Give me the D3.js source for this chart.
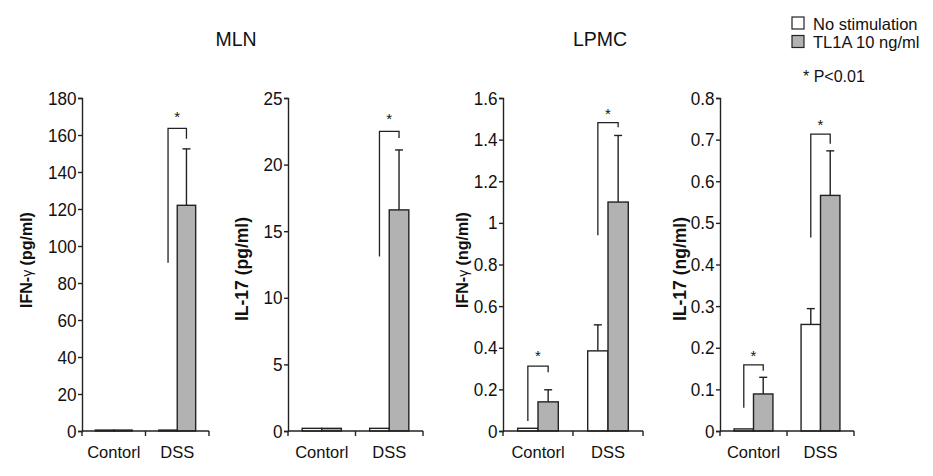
<!DOCTYPE html>
<html><head><meta charset="utf-8">
<script src="https://cdn.jsdelivr.net/npm/d3@7"></script>
<style>
body{margin:0;background:#fff;}
text{font-family:"Liberation Sans",Arial,Helvetica,sans-serif;fill:#111;}
</style></head>
<body><svg id="c" width="933" height="476"></svg>
<script>
// ---------- DATA ----------
const categories = ["Contorl", "DSS"];
const seriesNames = ["No stimulation", "TL1A 10 ng/ml"];
const groupTitles = ["MLN", "LPMC"];
const pValueNote = "* P<0.01";

// MLN IFN-γ (pg/ml)
const mlnIfnNoStim = [0.5, 0.5];
const mlnIfnNoStimErr = [0, 0];
const mlnIfnTl1a = [0.5, 122];
const mlnIfnTl1aErr = [0, 30.5];
const mlnIfnTicks = [0, 20, 40, 60, 80, 100, 120, 140, 160, 180];

// MLN IL-17 (pg/ml)
const mlnIl17NoStim = [0.2, 0.2];
const mlnIl17NoStimErr = [0, 0];
const mlnIl17Tl1a = [0.2, 16.6];
const mlnIl17Tl1aErr = [0, 4.5];
const mlnIl17Ticks = [0, 5, 10, 15, 20, 25];

// LPMC IFN-γ (ng/ml)
const lpmcIfnNoStim = [0.013, 0.385];
const lpmcIfnNoStimErr = [0, 0.125];
const lpmcIfnTl1a = [0.14, 1.10];
const lpmcIfnTl1aErr = [0.058, 0.32];
const lpmcIfnTicks = [0, 0.2, 0.4, 0.6, 0.8, 1, 1.2, 1.4, 1.6];

// LPMC IL-17 (ng/ml)
const lpmcIl17NoStim = [0.005, 0.256];
const lpmcIl17NoStimErr = [0, 0.038];
const lpmcIl17Tl1a = [0.089, 0.566];
const lpmcIl17Tl1aErr = [0.04, 0.107];
const lpmcIl17Ticks = [0, 0.1, 0.2, 0.3, 0.4, 0.5, 0.6, 0.7, 0.8];

// significance brackets: [category, left leg bottom, top, right leg bottom, star]
const mlnIfnSig = [["DSS", 91, 163.6, 158, 171]];
const mlnIl17Sig = [["DSS", 13.1, 22.5, 22.0, 23.6]];
const lpmcIfnSig = [["Contorl", 0.048, 0.312, 0.282, 0.37], ["DSS", 0.94, 1.482, 1.46, 1.535]];
const lpmcIl17Sig = [["Contorl", 0.056, 0.159, 0.145, 0.185], ["DSS", 0.465, 0.713, 0.69, 0.74]];

// ---------- LAYOUT ----------
const panels = [
  {label:["IFN-","γ"," (pg/ml)"], a:mlnIfnNoStim, ae:mlnIfnNoStimErr, b:mlnIfnTl1a, be:mlnIfnTl1aErr, ticks:mlnIfnTicks, sig:mlnIfnSig, x0:82, x1:209, labelX:28, labelY:260, labelSize:16},
  {label:["IL-17 (pg/ml)"], a:mlnIl17NoStim, ae:mlnIl17NoStimErr, b:mlnIl17Tl1a, be:mlnIl17Tl1aErr, ticks:mlnIl17Ticks, sig:mlnIl17Sig, x0:288, x1:423, labelX:243, labelY:269, labelSize:17.5},
  {label:["IFN-","γ"," (ng/ml)"], a:lpmcIfnNoStim, ae:lpmcIfnNoStimErr, b:lpmcIfnTl1a, be:lpmcIfnTl1aErr, ticks:lpmcIfnTicks, sig:lpmcIfnSig, x0:503, x1:643, labelX:464, labelY:260, labelSize:16},
  {label:["IL-17 (ng/ml)"], a:lpmcIl17NoStim, ae:lpmcIl17NoStimErr, b:lpmcIl17Tl1a, be:lpmcIl17Tl1aErr, ticks:lpmcIl17Ticks, sig:lpmcIl17Sig, x0:720, x1:854, labelX:681, labelY:269, labelSize:17.5}
];
const yTop = 98, yBot = 431;
const fills = ["#ffffff", "#b2b2b2"];
const ink = "#222";

const svg = d3.select("#c");

panels.forEach(p => {
  const g = svg.append("g");
  const y = d3.scaleLinear().domain([0, d3.max(p.ticks)]).range([yBot, yTop]);
  const x = d3.scaleBand().domain(categories).range([p.x0, p.x1]).paddingInner(0.42).paddingOuter(0.21);
  const xs = d3.scaleBand().domain([0, 1]).range([0, x.bandwidth()]);

  // y axis
  const ya = d3.axisLeft(y).tickValues(p.ticks).tickSize(4).tickPadding(2).tickFormat(d3.format("~g"));
  const yg = g.append("g").attr("transform", `translate(${p.x0},0)`).call(ya);
  yg.select(".domain").attr("stroke", ink).attr("stroke-width", 1.4);
  yg.selectAll(".tick line").attr("stroke", ink).attr("stroke-width", 1.4);
  yg.selectAll(".tick text").style("font-size", "19px").style("font-family", '"Liberation Sans",Arial,sans-serif')
    .attr("fill", "#111").attr("transform", "scale(0.9,1)");

  // bars
  const rows = categories.map((c, i) => [
    {c, s:0, v:p.a[i], e:p.ae[i]},
    {c, s:1, v:p.b[i], e:p.be[i]}
  ]).flat();

  rows.filter(r => r.e > 0).forEach(r => {
    const cx = x(r.c) + xs(r.s) + xs.bandwidth() / 2;
    g.append("line").attr("x1", cx).attr("x2", cx).attr("y1", y(r.v)).attr("y2", y(r.v + r.e))
      .attr("stroke", ink).attr("stroke-width", 1.4);
    g.append("line").attr("x1", cx - 4).attr("x2", cx + 4).attr("y1", y(r.v + r.e)).attr("y2", y(r.v + r.e))
      .attr("stroke", ink).attr("stroke-width", 1.4);
  });

  g.selectAll("rect.bar").data(rows).join("rect").attr("class", "bar")
    .attr("x", r => x(r.c) + xs(r.s))
    .attr("width", xs.bandwidth())
    .attr("y", r => y(r.v))
    .attr("height", r => yBot - y(r.v))
    .attr("fill", r => fills[r.s])
    .attr("stroke", ink).attr("stroke-width", 1.4);

  // x axis
  const step = x.step();
  const bounds = [p.x0, p.x0 + step, p.x1];
  g.append("line").attr("x1", p.x0).attr("x2", p.x1).attr("y1", yBot).attr("y2", yBot)
    .attr("stroke", ink).attr("stroke-width", 1.4);
  bounds.forEach(bx => g.append("line").attr("x1", bx).attr("x2", bx).attr("y1", yBot).attr("y2", yBot + 5)
    .attr("stroke", ink).attr("stroke-width", 1.4));
  categories.forEach(c => {
    g.append("text").attr("x", x(c) + x.bandwidth() / 2).attr("y", yBot + 27)
      .attr("text-anchor", "middle").style("font-size", "16.5px").text(c);
  });

  // significance brackets
  p.sig.forEach(([c, lb, top, rb, star]) => {
    const lx = x(c) + xs(0) + xs.bandwidth() / 2;
    const rx = x(c) + xs(1) + xs.bandwidth() / 2;
    g.append("path").attr("d", `M${lx},${y(lb)}V${y(top)}H${rx}V${y(rb)}`)
      .attr("fill", "none").attr("stroke", ink).attr("stroke-width", 1.3);
    g.append("text").attr("x", (lx + rx) / 2).attr("y", y(star) + 7)
      .attr("text-anchor", "middle").style("font-size", "15px").text("*");
  });

  // y label
  const t = g.append("text").attr("transform", `translate(${p.labelX},${p.labelY}) rotate(-90)`)
    .attr("text-anchor", "middle").attr("dominant-baseline", "middle")
    .style("font-size", p.labelSize + "px").style("font-weight", "bold");
  p.label.forEach(part => {
    const ts = t.append("tspan").text(part);
    if (part === "γ") ts.style("font-weight", "normal").style("font-size", "14px");
  });
});

// group titles
svg.append("text").attr("x", 236).attr("y", 46).attr("text-anchor", "middle").style("font-size", "19.5px").text(groupTitles[0]);
svg.append("text").attr("x", 600).attr("y", 46).attr("text-anchor", "middle").style("font-size", "19.5px").text(groupTitles[1]);

// legend
const leg = svg.append("g");
seriesNames.forEach((s, i) => {
  leg.append("rect").attr("x", 792).attr("y", 17 + i * 18.5).attr("width", 12).attr("height", 12)
    .attr("fill", fills[i]).attr("stroke", ink).attr("stroke-width", 1.2);
  leg.append("text").attr("x", 813).attr("y", 29.5 + i * 18.5).style("font-size", "16.5px").text(s);
});
leg.append("text").attr("x", 803).attr("y", 82).style("font-size", "16px").text(pValueNote);
</script></body></html>
